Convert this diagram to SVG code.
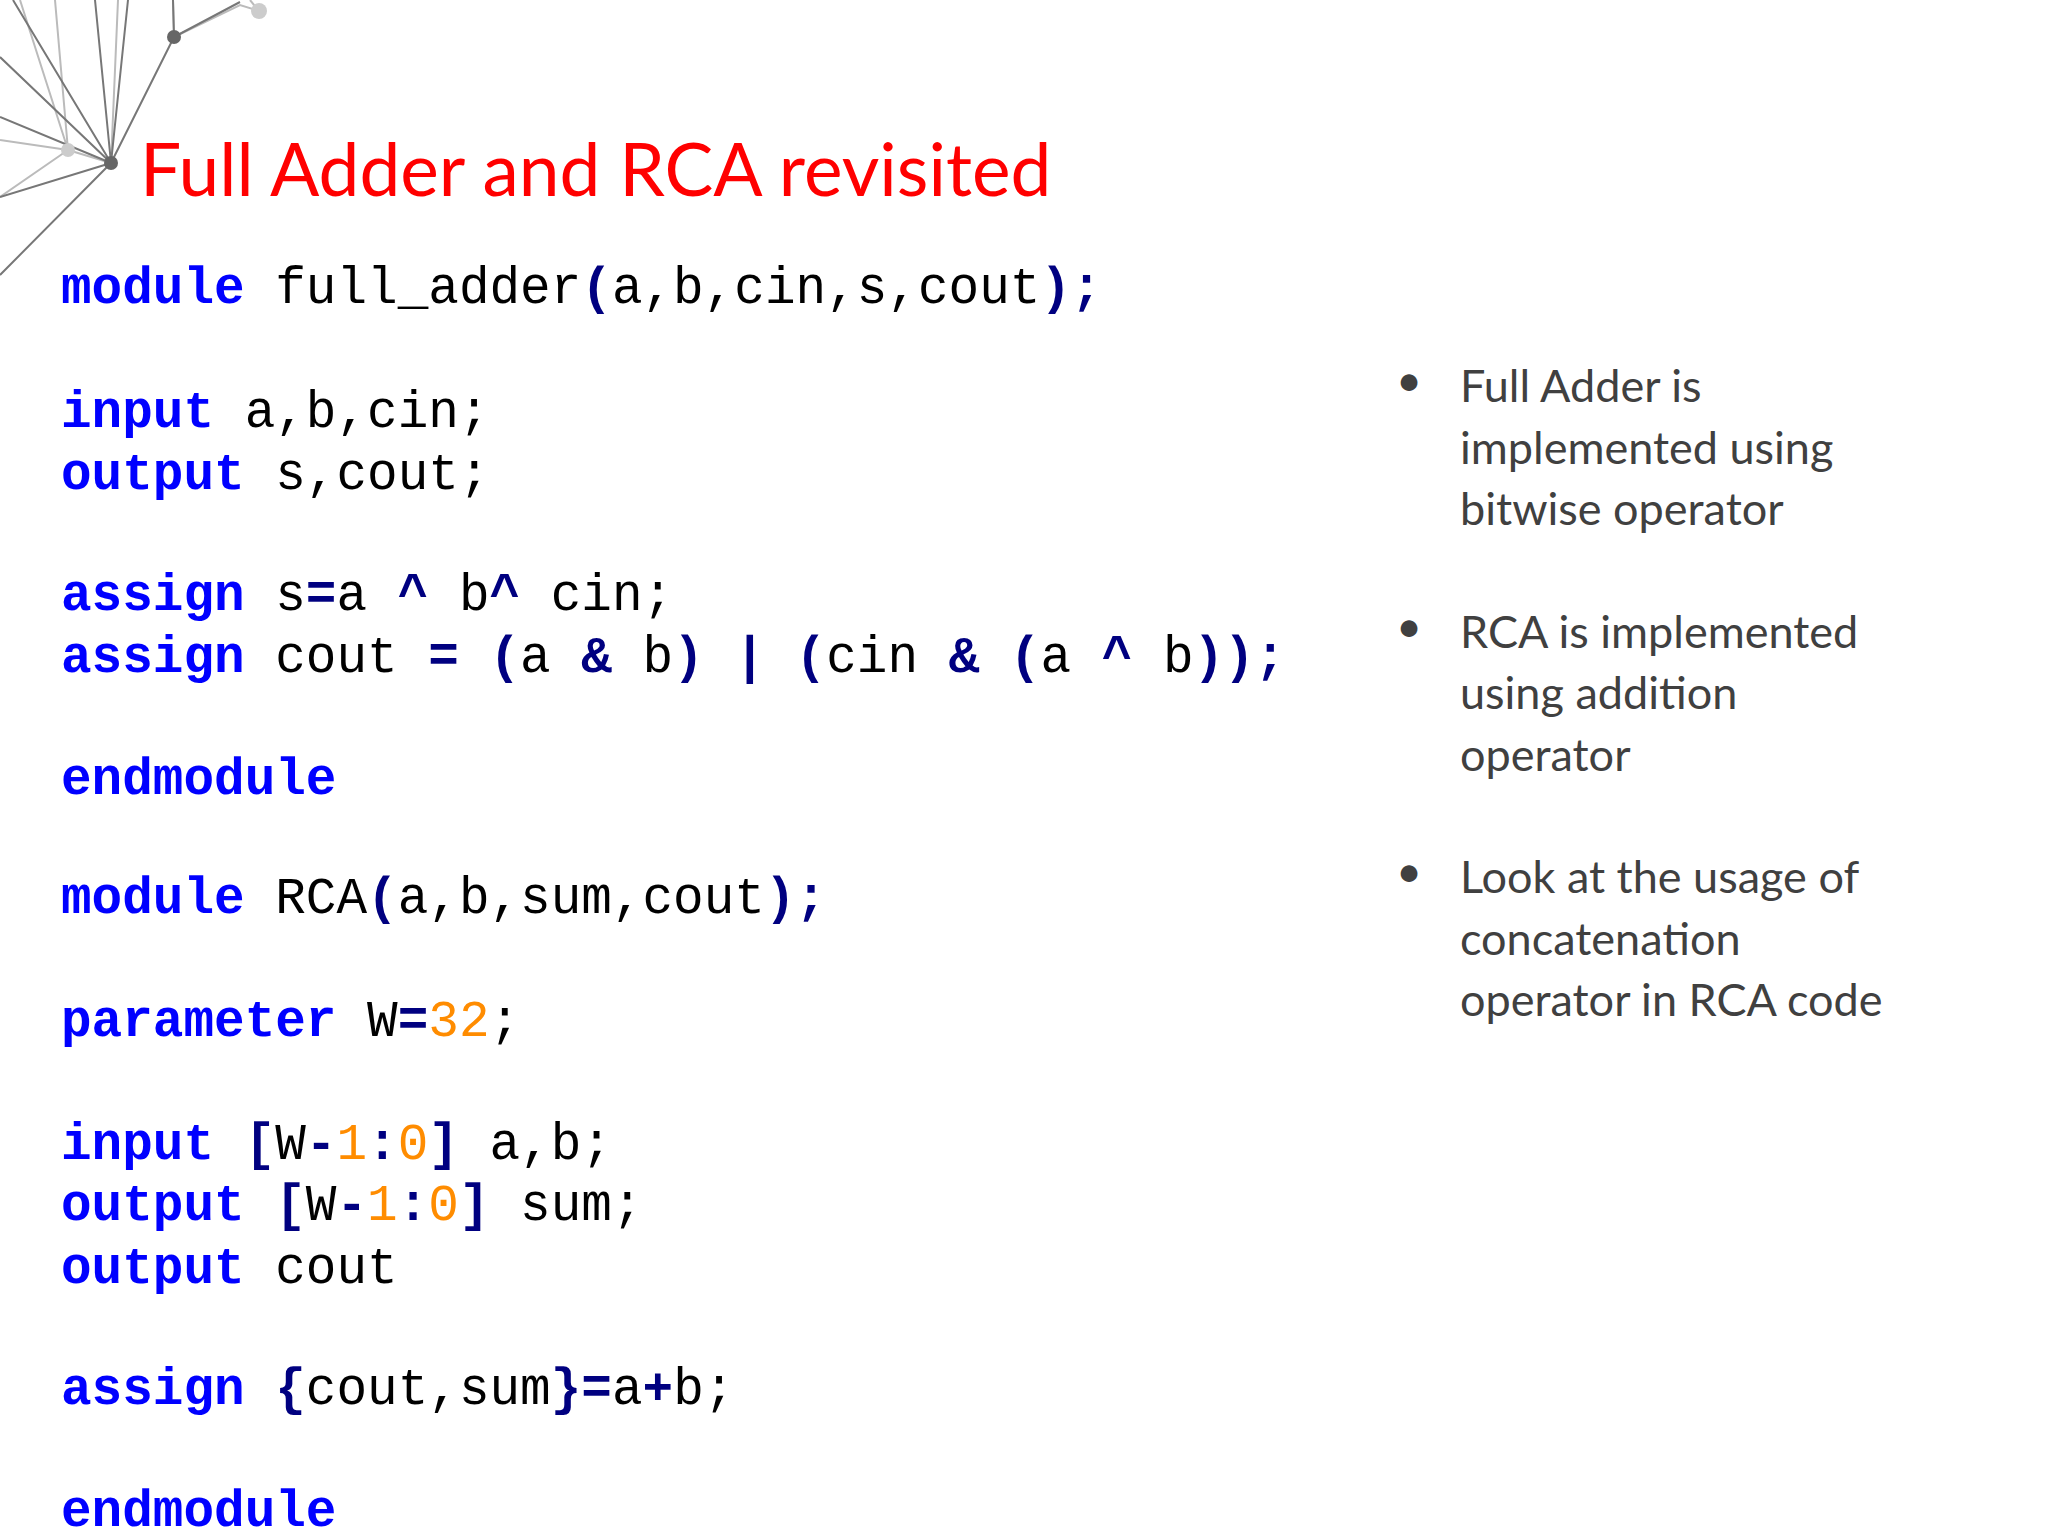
<svg xmlns="http://www.w3.org/2000/svg" width="2048" height="1536" viewBox="0 0 2048 1536">
<style>
.c{font-family:"Liberation Mono","Courier New",monospace;font-size:51px;fill:#000}
.k{fill:#0000ff;font-weight:bold}
.p{fill:#000080;font-weight:bold}
.n{fill:#ff8c00}
.b{font-family:Lato,"Open Sans",sans-serif;font-size:45px;fill:#404040}
.d{stroke:#777;stroke-width:2;fill:none}
.l{stroke:#bbb;stroke-width:2;fill:none}
</style>
<rect width="2048" height="1536" fill="#fff"/>
<g id="decoration">
<path class="l" d="M68 150L0 140M68 150L0 197M68 150L55 0M68 150L20 0M68 150L111 163M111 163L118 0M174 37L173 0M174 37L240 5L259 11L250 0"/>
<path class="d" d="M111 163L0 197M111 163L0 117M111 163L0 57M111 163L13 0M111 163L95 0M111 163L128 0M111 163L174 37M111 163L0 275M174 37L173 0M174 37L240 2"/>
<circle cx="68" cy="150" r="7" fill="#ccc"/>
<circle cx="259" cy="11" r="8" fill="#ccc"/>
<circle cx="111" cy="163" r="7" fill="#666"/>
<circle cx="174" cy="37" r="7" fill="#666"/>
</g>
<g id="title"><text x="140" y="196" font-family="Lato,'Open Sans',sans-serif" font-size="73" fill="#ff0000">Full Adder and RCA revisited</text></g>
<g id="code" xml:space="preserve" transform="translate(0,3)">
<text class="c" x="61" y="300"><tspan class="k">module</tspan> full_adder<tspan class="p">(</tspan>a,b,cin,s,cout<tspan class="p">);</tspan></text>
<text class="c" x="61" y="424"><tspan class="k">input</tspan> a,b,cin;</text>
<text class="c" x="61" y="486"><tspan class="k">output</tspan> s,cout;</text>
<text class="c" x="61" y="607"><tspan class="k">assign</tspan> s<tspan class="p">=</tspan>a <tspan class="p">^</tspan> b<tspan class="p">^</tspan> cin;</text>
<text class="c" x="61" y="669"><tspan class="k">assign</tspan> cout <tspan class="p">=</tspan> <tspan class="p">(</tspan>a <tspan class="p">&amp;</tspan> b<tspan class="p">)</tspan> <tspan class="p">|</tspan> <tspan class="p">(</tspan>cin <tspan class="p">&amp;</tspan> <tspan class="p">(</tspan>a <tspan class="p">^</tspan> b<tspan class="p">));</tspan></text>
<text class="c" x="61" y="791"><tspan class="k">endmodule</tspan></text>
<text class="c" x="61" y="910"><tspan class="k">module</tspan> RCA<tspan class="p">(</tspan>a,b,sum,cout<tspan class="p">);</tspan></text>
<text class="c" x="61" y="1033"><tspan class="k">parameter</tspan> W<tspan class="p">=</tspan><tspan class="n">32</tspan>;</text>
<text class="c" x="61" y="1156"><tspan class="k">input</tspan> <tspan class="p">[</tspan>W<tspan class="p">-</tspan><tspan class="n">1</tspan><tspan class="p">:</tspan><tspan class="n">0</tspan><tspan class="p">]</tspan> a,b;</text>
<text class="c" x="61" y="1217"><tspan class="k">output</tspan> <tspan class="p">[</tspan>W<tspan class="p">-</tspan><tspan class="n">1</tspan><tspan class="p">:</tspan><tspan class="n">0</tspan><tspan class="p">]</tspan> sum;</text>
<text class="c" x="61" y="1280"><tspan class="k">output</tspan> cout</text>
<text class="c" x="61" y="1401"><tspan class="k">assign</tspan> <tspan class="p">{</tspan>cout,sum<tspan class="p">}=</tspan>a<tspan class="p">+</tspan>b;</text>
<text class="c" x="61" y="1523"><tspan class="k">endmodule</tspan></text>
</g>
<g id="bullets">
<text class="b" x="1396" y="396">•</text>
<text class="b" x="1460" y="402">Full Adder is</text>
<text class="b" x="1460" y="464">implemented using</text>
<text class="b" x="1460" y="525">bitwise operator</text>
<text class="b" x="1396" y="642">•</text>
<text class="b" x="1460" y="648">RCA is implemented</text>
<text class="b" x="1460" y="709">using addition</text>
<text class="b" x="1460" y="771">operator</text>
<text class="b" x="1396" y="887">•</text>
<text class="b" x="1460" y="893">Look at the usage of</text>
<text class="b" x="1460" y="955">concatenation</text>
<text class="b" x="1460" y="1016">operator in RCA code</text>
</g>
</svg>
